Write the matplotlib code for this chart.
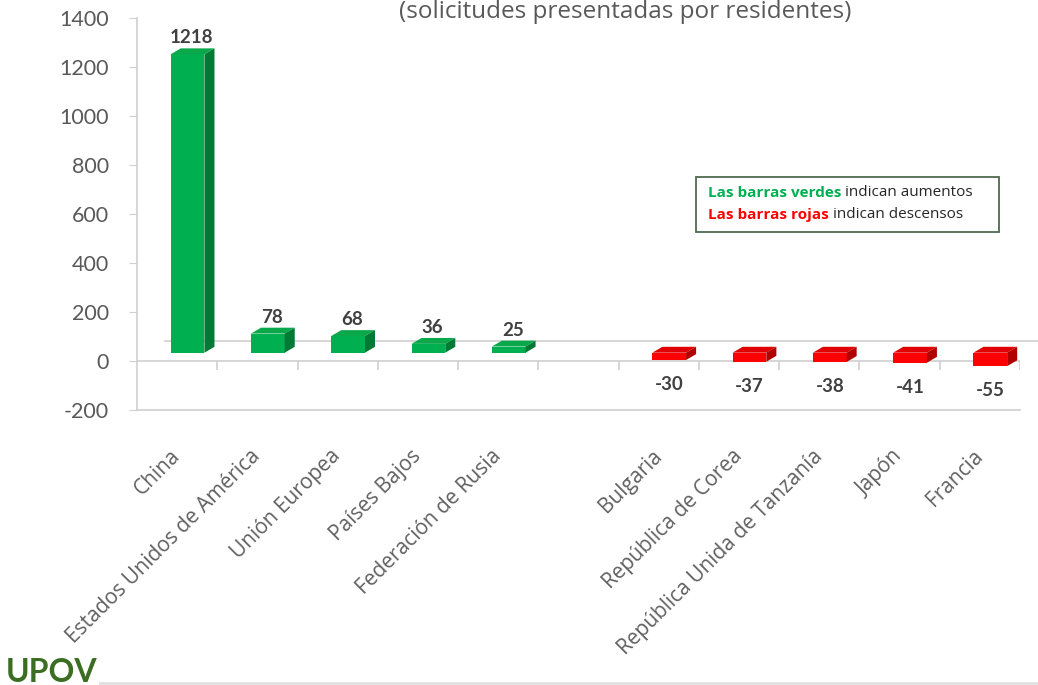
import matplotlib
matplotlib.use("Agg")
import matplotlib.pyplot as plt
from matplotlib.patches import Polygon, Rectangle
import numpy as np

# ---- data ----
categories = ["China", "Estados Unidos de América", "Unión Europea", "Países Bajos",
              "Federación de Rusia", "", "Bulgaria", "República de Corea",
              "República Unida de Tanzanía", "Japón", "Francia"]
values = [1218, 78, 68, 36, 25, np.nan, -30, -37, -38, -41, -55]
yticks = [-200, 0, 200, 400, 600, 800, 1000, 1200, 1400]
title_text = "(solicitudes presentadas por residentes)"
legend_line1 = ("Las barras verdes", " indican aumentos")
legend_line2 = ("Las barras rojas", " indican descensos")

# ---- style ----
FONT = "Lato"
FONT2 = "Open Sans"
GRAY = "#595959"
LINE = "#d0d0d0"
G_FRONT, G_TOP, G_SIDE = "#00b050", "#0aa84a", "#007a35"
R_FRONT, R_TOP, R_SIDE = "#ff0000", "#e00000", "#b00000"
OFF, W, DX, DY, BASE = 0.13, 0.42, 0.125, 24, 34

fig = plt.figure(figsize=(10.38, 6.85), dpi=100)
ax = fig.add_axes([137/1038, 1-410/685, (1020-137)/1038, (410-18)/685])
ax.set_xlim(-0.5, len(categories)-0.5)
ax.set_ylim(-200, 1400)

for s in ["top", "right"]:
    ax.spines[s].set_visible(False)
for s in ["left", "bottom"]:
    ax.spines[s].set_color(LINE)
    ax.spines[s].set_linewidth(1.2)

ax.set_yticks(yticks)
ax.set_yticklabels([str(t) for t in yticks], fontsize=15.5, color=GRAY, family=FONT)
ax.tick_params(axis="y", direction="out", length=6, color=LINE, pad=14)

x = np.arange(len(categories))
ax.set_xticks(x)
ax.set_xticklabels(categories, fontsize=15, color="#606060", family=FONT2,
                   rotation=45, ha="right", va="center", rotation_mode="anchor")
ax.tick_params(axis="x", length=0, pad=31)

# front zero axis + category ticks
ax.axhline(0, color=LINE, lw=1.2, zorder=1)
bounds = np.arange(len(categories)+1) - 0.5
ax.vlines(bounds[1:], -36, 0, color=LINE, lw=1.2, zorder=1)
# back wall zero gridline
ax.plot([-0.15, len(categories)-0.28], [BASE+DY+24, BASE+DY+24], color=LINE, lw=1.2,
        clip_on=False, zorder=0)

for i, v in enumerate(values):
    if np.isnan(v):
        continue
    x0 = i + OFF - W/2
    x1 = x0 + W
    if v >= 0:
        fc, tc, sc = G_FRONT, G_TOP, G_SIDE
        bot, top = BASE, BASE + v
    else:
        fc, tc, sc = R_FRONT, R_TOP, R_SIDE
        bot, top = BASE + v, BASE
    ax.bar(i + OFF, top - bot, bottom=bot, width=W, color=fc, zorder=3, linewidth=0)
    ax.add_patch(Polygon([(x0, top), (x1, top), (x1+DX, top+DY), (x0+DX, top+DY)],
                         closed=True, facecolor=tc, edgecolor="none", zorder=3))
    ax.add_patch(Polygon([(x1, bot), (x1, top), (x1+DX, top+DY), (x1+DX, bot+DY)],
                         closed=True, facecolor=sc, edgecolor="none", zorder=3))
    if v >= 0:
        ax.text(i + OFF + 0.05, top + DY + 8, f"{v:g}", ha="center", va="bottom",
                fontsize=13.5, fontweight="bold", color="#404040", family=FONT)
    else:
        ax.text(i + OFF, bot - 100, f"{v:g}", ha="center", va="center",
                fontsize=13.5, fontweight="bold", color="#404040", family=FONT)

# title (top of the chart)
fig.text(625/1038, 1-18/685, title_text, ha="center", va="baseline",
         fontsize=17.5, color=GRAY, family=FONT2)

# legend box
fig.patches.append(Rectangle((696/1038, 1-232/685), (999-696)/1038, (232-177)/685,
                             transform=fig.transFigure, facecolor="white",
                             edgecolor="#4f6a4f", lw=1.3))
fig.canvas.draw()
r = fig.canvas.get_renderer()
for (a, b), ypx, col in [(legend_line1, 193, G_FRONT), (legend_line2, 215, R_FRONT)]:
    t1 = fig.text(708/1038, 1-ypx/685, a, ha="left", va="center", fontsize=11,
                  fontweight="bold", color=col, family=FONT2)
    bb = t1.get_window_extent(renderer=r)
    fig.text(bb.x1/1038, 1-ypx/685, b, ha="left", va="center", fontsize=11,
             color="#262626", family=FONT2)

# UPOV logo
fig.text(6/1038, 1-682/685, "UPOV", ha="left", va="baseline", fontsize=23,
         fontweight="bold", color="#3b6e22", family=FONT)
fig.add_artist(plt.Line2D([100/1038, 1], [0.003, 0.003], color="#e0e0e0", lw=2,
                          transform=fig.transFigure))

fig.savefig("out.png", dpi=100)
